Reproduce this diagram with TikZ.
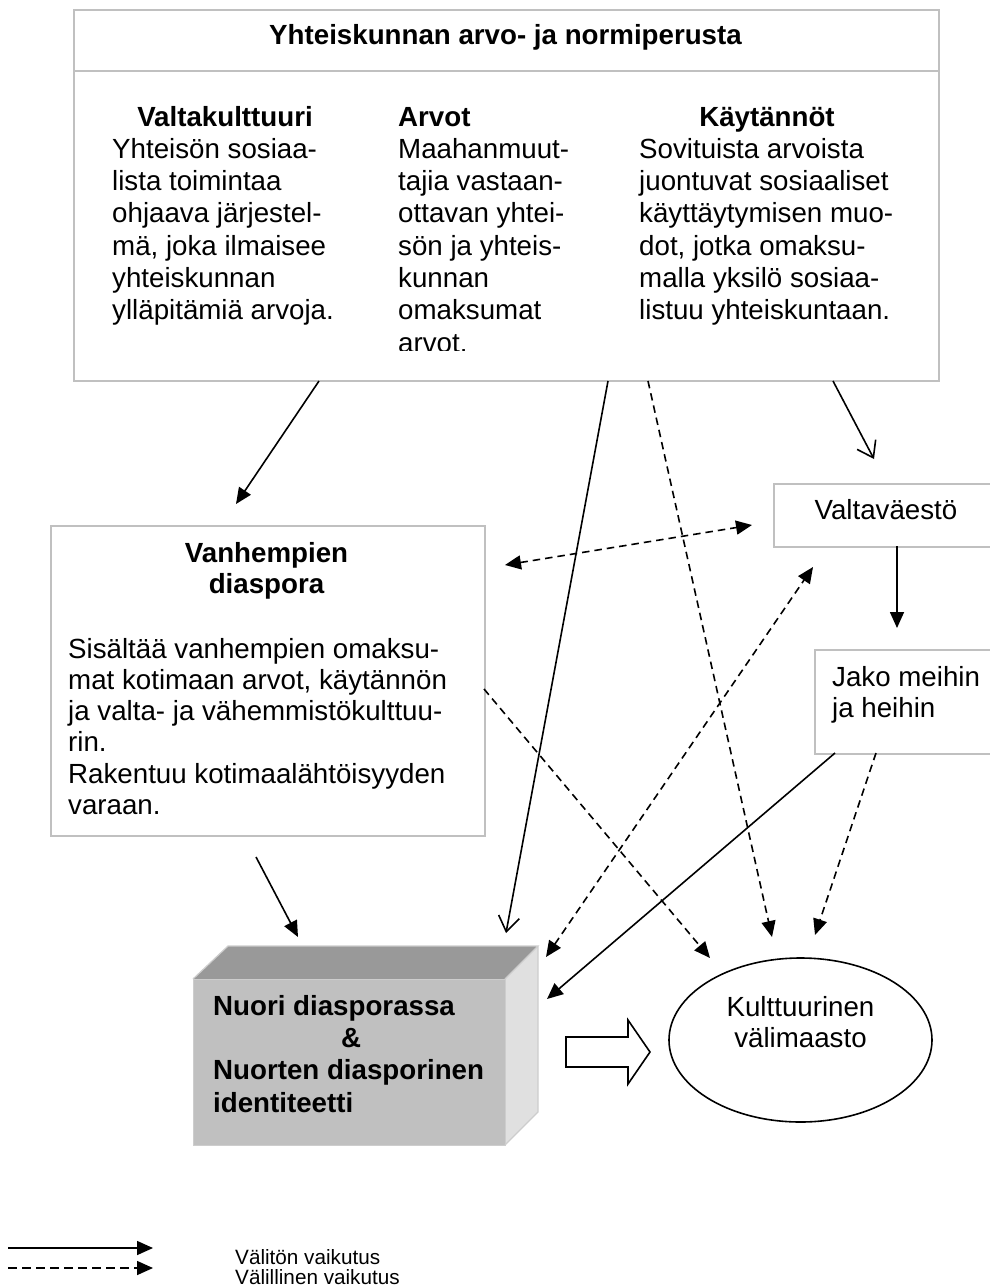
\documentclass[tikz,border=0pt]{standalone}
\usepackage{fontspec}
\setmainfont{Liberation Sans}
\usetikzlibrary{arrows.meta,shapes.geometric}

\definecolor{boxgray}{RGB}{192,192,192}
\definecolor{topface}{RGB}{153,153,153}
\definecolor{sideface}{RGB}{224,224,224}
\definecolor{frontface}{RGB}{192,192,192}
\definecolor{cubeedge}{RGB}{205,205,205}

\newcommand{\txtA}{\fontsize{27.7}{32.3}\selectfont}
\newcommand{\txtB}{\fontsize{27.7}{31.2}\selectfont}
\newcommand{\txtL}{\fontsize{20.7}{20}\selectfont}

\begin{document}
\begin{tikzpicture}[x=1pt,y=-1pt,
  frame/.style={draw=boxgray,line width=2pt,fill=white,inner sep=0pt,anchor=north west},
  txt/.style={inner sep=0pt,font=\txtA},
  body/.style={anchor=north west,align=left},
  link/.style={line width=1.6pt},
  direct/.style={link,-{Triangle[length=16pt,width=14pt]}},
  directopen/.style={link,-{Straight Barb[length=15pt,width=21pt]}},
  indirect/.style={link,dash pattern=on 7.5pt off 5pt,-{Triangle[length=16pt,width=14pt]}},
  indirectboth/.style={link,dash pattern=on 7.5pt off 5pt,{Triangle[length=16pt,width=14pt]}-{Triangle[length=16pt,width=14pt]}}
]
\useasboundingbox (0,0) rectangle (990,1288);
\clip (0,0) rectangle (990,1288);

% ---------- society's values and norms ----------
\node[frame,minimum width=865pt,minimum height=371pt] (norms) at (73,9) {};
\draw[draw=boxgray,line width=2pt] (norms.north west |- 0,71) -- (norms.north east |- 0,71);
\node[txt,anchor=base] (title) at (505.5,44) {\bfseries Yhteiskunnan arvo- ja normiperusta};

\node[txt,anchor=base] (h1) at (225,126) {\bfseries Valtakulttuuri};
\node[txt,body] (b1) at (112,135.4) {\strut Yhteisön sosiaa-\\lista toimintaa\\ohjaava järjestel-\\mä, joka ilmaisee\\yhteiskunnan\\ylläpitämiä arvoja.};

\begin{scope}
  \clip (380,95) rectangle (630,350);
  \node[txt,anchor=base west] (h2) at (398,126) {\bfseries Arvot};
  \node[txt,body] (b2) at (398,135.4) {\strut Maahanmuut-\\tajia vastaan-\\ottavan yhtei-\\sön ja yhteis-\\kunnan\\omaksumat\\arvot.};
\end{scope}

\node[txt,anchor=base] (h3) at (767,126) {\bfseries Käytännöt};
\node[txt,body] (b3) at (639,135.4) {\strut Sovituista arvoista\\juontuvat sosiaaliset\\käyttäytymisen muo-\\dot, jotka omaksu-\\malla yksilö sosiaa-\\listuu yhteiskuntaan.};

% ---------- parents' diaspora ----------
\node[frame,minimum width=434pt,minimum height=310pt] (parents) at (50,525) {};
\node[txt,font=\txtB\bfseries,anchor=north,align=center] (ph) at (266.5,540.2) {\strut Vanhempien\\diaspora};
\node[txt,font=\txtB,body] (pb) at (68,636.2) {\strut Sisältää vanhempien omaksu-\\mat kotimaan arvot, käytännön\\ja valta- ja vähemmistökulttuu-\\rin.\\Rakentuu kotimaalähtöisyyden\\varaan.};

% ---------- majority population ----------
\node[frame,minimum width=240pt,minimum height=63pt] (major) at (773,483) {};
\node[txt,anchor=base] (majt) at (886,519) {Valtaväestö};

\node[frame,minimum width=200pt,minimum height=104pt] (split) at (814,649) {};
\node[txt,font=\txtB,body] (splitt) at (832,664.2) {\strut Jako meihin\\ja heihin};

% ---------- youth in diaspora (block) ----------
\fill[topface] (193,979) -- (228,946) -- (538,946) -- (505,979) -- cycle;
\fill[sideface] (505,979) -- (538,946) -- (538,1112) -- (505,1145) -- cycle;
\node[fill=frontface,draw=cubeedge,line width=1.2pt,inner sep=0pt,anchor=north west,
      minimum width=312pt,minimum height=166pt] (youth) at (193,979) {};
\draw[cubeedge,line width=1.2pt] (193,979) -- (228,946) -- (538,946) -- (505,979)
  (538,946) -- (538,1112) -- (505,1145);
\node[txt,body,font=\txtA\bfseries] (youtht) at (213,992.4)
  {\strut Nuori diasporassa\\\hspace*{128pt}\&\\Nuorten diasporinen\\identiteetti};

% ---------- cultural in-between ----------
\node[draw,ellipse,line width=1.6pt,inner sep=0pt,minimum width=263pt,minimum height=164pt] (middle) at (800.5,1040) {};
\node[txt,font=\txtB,anchor=north,align=center] (middlet) at (800.5,994.2) {\strut Kulttuurinen\\välimaasto};

% ---------- connector end points ----------
\coordinate (n1) at (319,381);   \coordinate (p1) at (236,504);
\coordinate (n2) at (833,381);   \coordinate (m1) at (874,459);
\coordinate (n3) at (608,381);   \coordinate (y1) at (506,933);
\coordinate (n4) at (648,381);   \coordinate (c1) at (772,937);
\coordinate (p2) at (505,565);   \coordinate (m2) at (752,525);
\coordinate (y2) at (546,957);   \coordinate (m3) at (813,567);
\coordinate (m4) at (897,546);   \coordinate (s1) at (897,628);
\coordinate (s2) at (835,753);   \coordinate (y3) at (547,999);
\coordinate (s3) at (876,753);   \coordinate (c2) at (815,935);
\coordinate (p3) at (484,689);   \coordinate (c3) at (710,958);
\coordinate (p4) at (256,857);   \coordinate (y4) at (298,937);

\draw[direct] (n1) -- (p1);
\draw[directopen] (n2) -- (m1);
\draw[directopen] (n3) -- (y1);
\draw[indirect] (n4) -- (c1);
\draw[indirectboth] (p2) -- (m2);
\draw[indirectboth] (y2) -- (m3);
\draw[direct] (m4) -- (s1);
\draw[direct] (s2) -- (y3);
\draw[indirect] (s3) -- (c2);
\draw[indirect] (p3) -- (c3);
\draw[direct] (p4) -- (y4);

% hollow block arrow from the youth block to the in-between
\coordinate (ba) at (566,1052);
\draw[line width=1.6pt,fill=white,line join=miter]
  (ba) ++(0,-15) -- ++(62,0) -- ++(0,-17) -- (650,1052) -- (628,1084) -- ++(0,-17) -- ++(-62,0) -- cycle;

% ---------- legend ----------
\coordinate (l1a) at (8,1248);  \coordinate (l1b) at (153,1248);
\coordinate (l2a) at (8,1268);  \coordinate (l2b) at (153,1268);
\draw[direct] (l1a) -- (l1b);
\draw[link,dash pattern=on 9pt off 5pt,-{Triangle[length=16pt,width=14pt]}] (l2a) -- (l2b);
\node[inner sep=0pt,font=\txtL,anchor=base west] (lg1) at (235,1264) {Välitön vaikutus};
\node[inner sep=0pt,font=\txtL,anchor=base west] (lg2) at (235,1284) {Välillinen vaikutus};
\end{tikzpicture}
\end{document}
